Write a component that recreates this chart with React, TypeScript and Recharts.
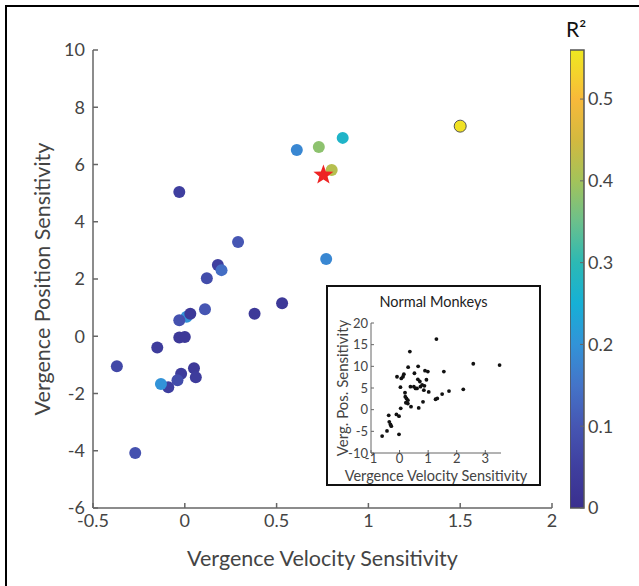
import React from 'react';
import { ScatterChart, Scatter, XAxis, YAxis, ReferenceArea } from 'recharts';

// ---- main data (patients) ----
const velocity = [-0.03, 0.29, 0.18, 0.2, 0.12, 0.61, 0.73, 0.86, 0.8, 0.77, 0.53, 0.38, 0.11, 0.01, 0.03, -0.03, -0.03, 0.0, -0.15, -0.37, -0.02, 0.05, 0.06, -0.04, -0.09, -0.13, -0.27, 1.5];
const position = [5.04, 3.29, 2.49, 2.31, 2.03, 6.51, 6.61, 6.93, 5.81, 2.7, 1.15, 0.79, 0.94, 0.68, 0.79, 0.56, -0.04, -0.03, -0.39, -1.05, -1.31, -1.12, -1.43, -1.54, -1.78, -1.67, -4.08, 7.34];
const rSquared = [0.05, 0.1, 0.05, 0.14, 0.08, 0.18, 0.38, 0.27, 0.42, 0.18, 0.03, 0.03, 0.1, 0.2, 0.03, 0.09, 0.03, 0.03, 0.04, 0.07, 0.04, 0.03, 0.04, 0.08, 0.05, 0.2, 0.09, 0.55];
const starVelocity = [0.755];
const starPosition = [5.63];

// ---- inset data (normal monkeys) ----
const normalVelocity = [-0.61, -0.44, -0.38, -0.36, -0.32, -0.29, -0.11, -0.02, -0.02, -0.09, 0.06, 0.12, 0.03, 0.04, 0.15, 0.19, 0.2, 0.24, 0.29, 0.22, 0.29, 0.3, 0.36, 0.38, 0.4, 0.5, 0.52, 0.56, 0.61, 0.64, 0.65, 0.71, 0.73, 0.67, 0.79, 0.82, 0.85, 0.87, 0.89, 0.94, 0.99, 1.02, 1.26, 1.32, 1.29, 1.49, 1.55, 1.73, 2.23, 2.58, 3.5];
const normalPosition = [-6.1, -4.9, -1.3, -2.8, -3.4, -3.8, -1.1, -1.5, -5.7, 7.6, 7.2, 7.6, 5.2, 0.3, 8.2, 3.9, 3.0, 2.6, 2.2, 1.6, 1.4, 9.8, 13.4, 5.3, 0.7, 5.3, 8.4, 4.9, 4.9, 7.0, 10.0, 6.5, 5.3, 0.4, 5.7, 1.8, 4.5, 5.5, 9.0, 6.9, 8.8, 4.1, 2.4, 2.6, 16.3, 3.6, 8.8, 4.3, 4.7, 10.6, 10.3];

// ---- ticks ----
const xTicks = [-0.5, 0, 0.5, 1, 1.5, 2];
const yTicks = [-6, -4, -2, 0, 2, 4, 6, 8, 10];
const cbTicks = [0, 0.1, 0.2, 0.3, 0.4, 0.5];
const insetXTicks = [-1, 0, 1, 2, 3];
const insetYTicks = [-10, -5, 0, 5, 10, 15, 20];

const CB_MAX = 0.56;
const parulaStops: [number, string][] = [
  [0.0, '#3a2f8e'],
  [0.05, '#3f3f9f'],
  [0.1, '#4656b3'],
  [0.15, '#4474c8'],
  [0.2, '#3293d8'],
  [0.25, '#16b0d6'],
  [0.3, '#2cb9b4'],
  [0.35, '#6bc08c'],
  [0.4, '#a3c35a'],
  [0.45, '#d3b93f'],
  [0.5, '#f8b93a'],
  [0.53, '#f4d22d'],
  [0.56, '#eee820'],
];

function hexToRgb(h: string) {
  const n = parseInt(h.slice(1), 16);
  return [(n >> 16) & 255, (n >> 8) & 255, n & 255];
}
function parula(v: number) {
  if (v <= parulaStops[0][0]) return parulaStops[0][1];
  for (let i = 1; i < parulaStops.length; i++) {
    const [v1, c1] = parulaStops[i];
    const [v0, c0] = parulaStops[i - 1];
    if (v <= v1) {
      const t = (v - v0) / (v1 - v0);
      const a = hexToRgb(c0);
      const b = hexToRgb(c1);
      const c = a.map((x, k) => Math.round(x + (b[k] - x) * t));
      return `rgb(${c[0]},${c[1]},${c[2]})`;
    }
  }
  return parulaStops[parulaStops.length - 1][1];
}

const mainData = velocity.map((v, i) => ({ x: v, y: position[i], r2: rSquared[i] }));
const starData = starVelocity.map((v, i) => ({ x: v, y: starPosition[i] }));
const insetData = normalVelocity.map((v, i) => ({ x: v, y: normalPosition[i] }));
const cbData = cbTicks.map((v) => ({ x: 0.5, y: v }));

const FONT = 'Lato, "Open Sans", sans-serif';
const AXIS = '#666';
const TXT = '#444';

const ColorDot = (props: any) => {
  const { cx, cy, payload } = props;
  const hi = payload.r2 > 0.5;
  return (
    <circle cx={cx} cy={cy} r={6} fill={parula(payload.r2)} stroke={hi ? '#555' : 'none'} strokeWidth={1} />
  );
};

const StarShape = (props: any) => {
  const { cx, cy } = props;
  const pts: string[] = [];
  for (let i = 0; i < 10; i++) {
    const r = i % 2 === 0 ? 10.5 : 4.3;
    const a = -Math.PI / 2 + (i * Math.PI) / 5;
    pts.push(`${cx + r * Math.cos(a)},${cy + r * Math.sin(a)}`);
  }
  return <polygon points={pts.join(' ')} fill="#ee2424" />;
};

const SmallDot = (props: any) => {
  const { cx, cy } = props;
  return <circle cx={cx} cy={cy} r={1.9} fill="#111" />;
};

const NoDot = (props: any) => <circle cx={props.cx} cy={props.cy} r={0} fill="none" />;

export default function App() {
  return (
    <div style={{ position: 'absolute', left: 0, top: 0, width: 639, height: 586, overflow: 'hidden', background: '#fff', fontFamily: FONT }}>
      <svg width={1} height={1} style={{ position: 'absolute', left: 0, top: 0 }}>
        <defs>
          <linearGradient id="parulaGrad" x1="0" y1="1" x2="0" y2="0">
            {parulaStops.map(([v, c]) => (
              <stop key={v} offset={v / CB_MAX} stopColor={c} />
            ))}
          </linearGradient>
        </defs>
      </svg>
      <div style={{ position: 'absolute', left: 5, top: 5, width: 800, height: 800, border: '2px solid #000' }} />

      <div style={{ position: 'absolute', left: 0, top: 0 }}>
        <ScatterChart width={639} height={586} margin={{ top: 50, right: 87, bottom: 0, left: 0 }}>
          <XAxis
            type="number"
            dataKey="x"
            domain={[-0.5, 2]}
            ticks={xTicks}
            height={78}
            stroke={AXIS}
            strokeWidth={1.5}
            tickSize={-5}
            tickMargin={11}
            tick={{ fill: TXT, fontSize: 18, fontFamily: FONT }}
            label={{ value: 'Vergence Velocity Sensitivity', position: 'insideBottom', offset: 20, fill: TXT, fontSize: 21.5, fontFamily: FONT }}
          />
          <YAxis
            type="number"
            dataKey="y"
            domain={[-6, 10]}
            ticks={yTicks}
            width={93}
            stroke={AXIS}
            strokeWidth={1.5}
            tickSize={-5}
            tickMargin={13}
            tick={{ fill: TXT, fontSize: 18, fontFamily: FONT }}
            label={{ value: 'Vergence Position Sensitivity', angle: -90, position: 'insideLeft', offset: 42, fill: TXT, fontSize: 21.5, fontFamily: FONT, style: { textAnchor: 'middle' } }}
          />
          <Scatter data={mainData} shape={ColorDot} isAnimationActive={false} />
          <Scatter data={starData} shape={StarShape} isAnimationActive={false} />
        </ScatterChart>
      </div>

      {/* colorbar */}
      <div style={{ position: 'absolute', left: 570, top: 0 }}>
        <ScatterChart width={69} height={586} margin={{ top: 50, right: 0, bottom: 78, left: 0 }}>
          <XAxis type="number" dataKey="x" domain={[0, 1]} hide />
          <YAxis
            type="number"
            dataKey="y"
            orientation="right"
            domain={[0, CB_MAX]}
            ticks={cbTicks}
            width={55}
            axisLine={false}
            stroke={AXIS}
            tickSize={-4}
            tickMargin={8}
            tick={{ fill: TXT, fontSize: 18, fontFamily: FONT }}
            tickFormatter={(v: number) => (v === 0 ? '0' : v.toFixed(1))}
          />
          <Scatter data={cbData} shape={NoDot} isAnimationActive={false} />
          <ReferenceArea x1={0} x2={1} y1={0} y2={CB_MAX} fill="url(#parulaGrad)" fillOpacity={1} stroke="#555" strokeWidth={1.5} ifOverflow="visible" />
        </ScatterChart>
      </div>
      <div style={{ position: 'absolute', left: 566, top: 16, fontSize: 21, color: '#111', fontFamily: FONT }}>R²</div>

      {/* inset */}
      <div style={{ position: 'absolute', left: 326, top: 285, width: 215, height: 201, border: '2px solid #111', background: '#fff', boxSizing: 'border-box' }}>
        <div style={{ position: 'absolute', left: 0, top: 6, width: 211, textAlign: 'center', fontSize: 14.5, color: '#222', fontFamily: FONT }}>Normal Monkeys</div>
        <div style={{ position: 'absolute', left: 0, top: 0 }}>
          <ScatterChart width={211} height={197} margin={{ top: 36, right: 38, bottom: 0, left: 0 }}>
            <XAxis
              type="number"
              dataKey="x"
              domain={[-1, 3.55]}
              ticks={insetXTicks}
              height={31}
              stroke={AXIS}
              tickSize={-3}
              tickMargin={4}
              tick={{ fill: TXT, fontSize: 13, fontFamily: FONT }}
              label={{ value: 'Vergence Velocity Sensitivity', position: 'insideBottom', offset: 3, fill: TXT, fontSize: 14.5, fontFamily: FONT }}
            />
            <XAxis xAxisId="top" type="number" orientation="top" domain={[-1, 3.55]} height={0} tick={false} tickLine={false} stroke={AXIS} />
            <YAxis
              type="number"
              dataKey="y"
              domain={[-10, 20]}
              ticks={insetYTicks}
              width={43}
              stroke={AXIS}
              tickSize={-3}
              tickMargin={6}
              tick={{ fill: TXT, fontSize: 13, fontFamily: FONT }}
              label={{ value: 'Verg. Pos. Sensitivity', angle: -90, position: 'insideLeft', offset: 15, fill: TXT, fontSize: 15, fontFamily: FONT, style: { textAnchor: 'middle' } }}
            />
            <YAxis yAxisId="right" type="number" orientation="right" domain={[-10, 20]} width={0} tick={false} tickLine={false} stroke={AXIS} />
            <Scatter data={insetData} shape={SmallDot} isAnimationActive={false} />
          </ScatterChart>
        </div>
      </div>
    </div>
  );
}
